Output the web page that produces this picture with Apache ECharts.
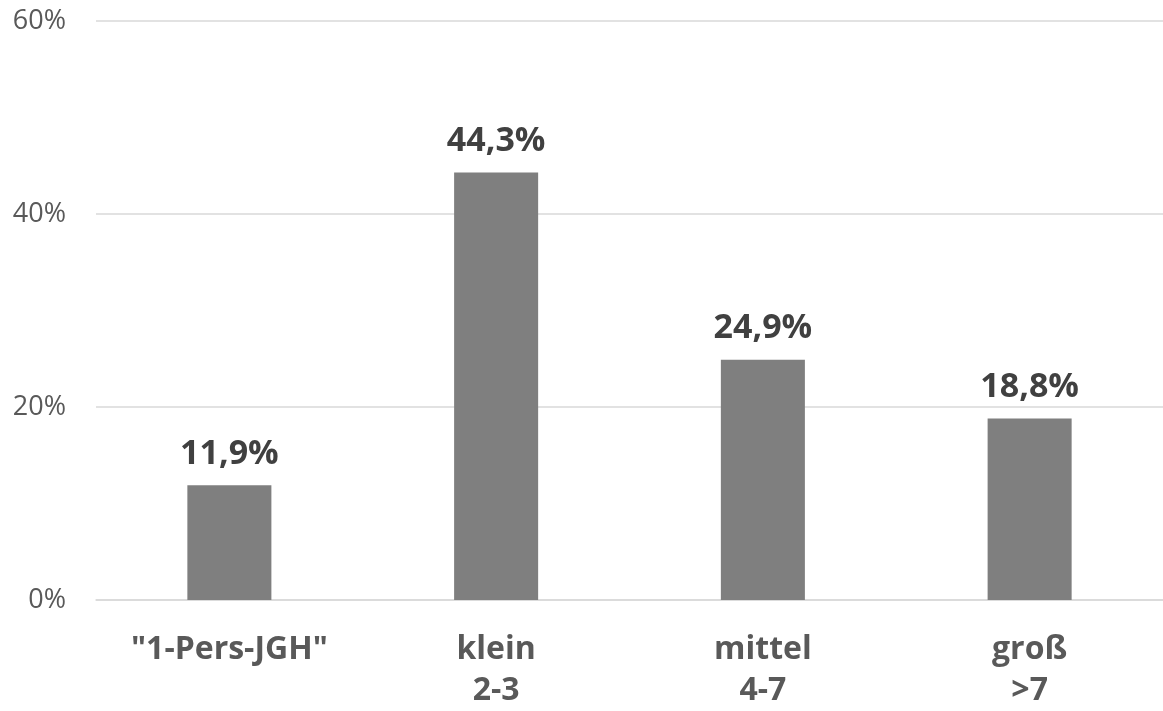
<!DOCTYPE html>
<html>
<head>
<meta charset="utf-8">
<script src="https://cdn.jsdelivr.net/npm/echarts@6/dist/echarts.min.js"></script>
<style>
  html, body { margin: 0; padding: 0; background: #fff; }
  #chart { width: 1163px; height: 711px; }
</style>
</head>
<body>
<div id="chart"></div>
<script>
// Haushaltsgrößen: Anteil in Prozent
const categories = ['"1-Pers-JGH"', 'klein\n2-3', 'mittel\n4-7', 'groß\n>7'];
const shares = [11.9, 44.3, 24.9, 18.8];
const yTicks = [0, 20, 40, 60];

const FONT = '"Open Sans", "DejaVu Sans", sans-serif';

const chart = echarts.init(document.getElementById('chart'), null, { renderer: 'canvas' });

chart.setOption({
  animation: false,
  backgroundColor: '#ffffff',
  grid: { left: 96, right: 0, top: 21, bottom: 111, containLabel: false },
  xAxis: {
    type: 'category',
    data: categories,
    axisLine: { show: true, lineStyle: { color: '#d9d9d9', width: 1.5 } },
    axisTick: { show: false },
    axisLabel: {
      color: '#595959',
      fontFamily: FONT,
      fontWeight: 'bold',
      fontSize: 32,
      lineHeight: 41,
      margin: 29,
      interval: 0
    }
  },
  yAxis: {
    type: 'value',
    min: yTicks[0],
    max: yTicks[yTicks.length - 1],
    interval: 20,
    axisLine: { show: false },
    axisTick: { show: false },
    splitLine: { lineStyle: { color: '#d9d9d9', width: 1.5 } },
    axisLabel: {
      color: '#595959',
      fontFamily: FONT,
      fontSize: 27,
      margin: 30,
      formatter: v => v + '%'
    }
  },
  series: [{
    type: 'bar',
    data: shares,
    barWidth: '31.5%',
    itemStyle: { color: '#7f7f7f' },
    label: {
      show: true,
      position: 'top',
      distance: 14,
      color: '#404040',
      fontFamily: FONT,
      fontWeight: 'bold',
      fontSize: 34,
      formatter: p => p.value.toFixed(1).replace('.', ',') + '%'
    }
  }]
});
</script>
</body>
</html>
